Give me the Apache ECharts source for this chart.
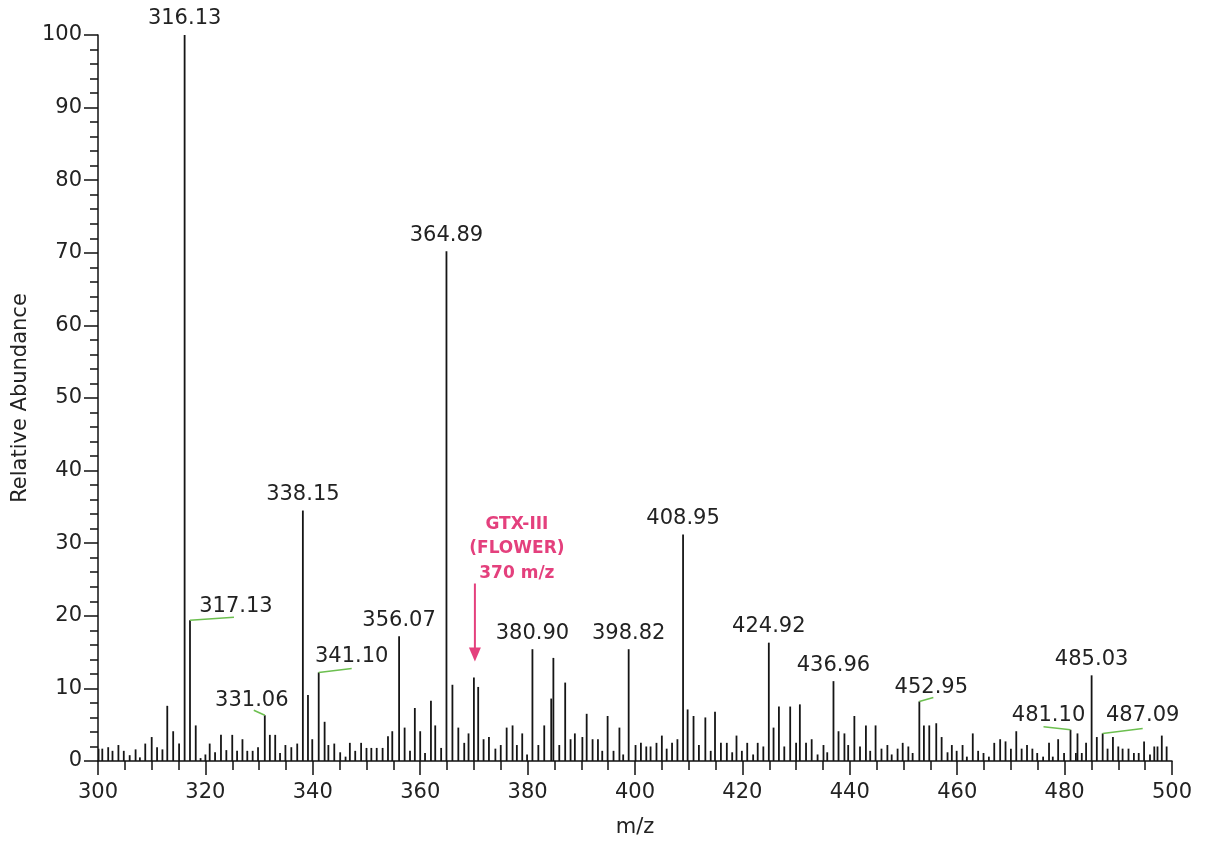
<!DOCTYPE html>
<html>
<head>
<meta charset="utf-8">
<script src="https://cdn.jsdelivr.net/npm/echarts@6/dist/echarts.min.js"></script>
<style>
  html, body { margin: 0; padding: 0; background: #ffffff; }
  #chart { width: 1207px; height: 843px; }
</style>
</head>
<body>
<div id="chart"></div>
<script>
// ---- data ----
const mzValues = [
  300.1, 300.8, 301.9, 302.7, 303.8, 304.8, 305.9, 307.0, 307.8, 308.8,
  310.0, 311.0, 312.0, 312.9, 314.0, 315.1, 316.13, 317.13, 318.2, 319.1,
  320.0, 320.8, 321.8, 322.9, 323.9, 325.0, 325.9, 326.9, 327.8, 328.8,
  329.8, 331.06, 332.0, 333.0, 333.9, 334.9, 336.0, 337.1, 338.15, 339.1,
  339.9, 341.10, 342.2, 342.9, 344.0, 345.1, 346.1, 346.9, 347.9, 349.0,
  350.0, 350.9, 351.9, 353.0, 354.0, 354.8, 356.07, 357.1, 358.1, 359.0,
  360.0, 360.9, 362.0, 362.8, 363.9, 364.89, 366.0, 367.1, 368.2, 369.0,
  370.0, 370.8, 371.8, 372.8, 374.0, 375.0, 376.1, 377.2, 378.0, 379.0,
  379.9, 380.90, 382.0, 383.1, 384.4, 384.8, 385.9, 387.0, 388.0, 388.8,
  390.2, 391.0, 392.1, 393.1, 393.9, 394.9, 396.0, 397.1, 397.8, 398.82,
  400.1, 401.1, 402.1, 402.9, 404.0, 405.0, 405.9, 406.9, 407.9, 408.95,
  409.8, 410.9, 411.9, 413.1, 414.1, 414.9, 416.0, 417.1, 418.1, 418.9,
  419.9, 420.9, 422.0, 422.85, 423.9, 424.92, 425.8, 426.8, 427.8, 428.9,
  430.0, 430.7, 431.85, 432.9, 434.0, 435.1, 435.8, 436.96, 437.9, 439.0,
  439.7, 440.85, 441.9, 443.0, 443.8, 444.8, 445.9, 447.0, 447.8, 448.9,
  449.85, 450.9, 451.7, 452.95, 453.8, 454.8, 456.1, 457.1, 458.2, 459.0,
  459.9, 461.0, 461.8, 462.9, 463.9, 464.9, 465.9, 466.9, 468.0, 469.0,
  470.0, 471.0, 472.0, 473.0, 474.0, 474.9, 476.0, 477.1, 477.8, 478.8,
  479.9, 481.10, 482.1, 482.4, 483.2, 484.0, 485.03, 486.0, 487.09, 488.0,
  489.0, 490.0, 490.8, 491.9, 492.9, 493.8, 494.8, 495.9, 496.7, 497.3,
  498.1, 499.0
];
const abundance = [
  1.7, 1.7, 1.9, 1.4, 2.2, 1.4, 0.8, 1.6, 0.5, 2.4,
  3.3, 1.9, 1.6, 7.6, 4.1, 2.4, 100, 19.4, 4.9, 0.4,
  0.9, 2.4, 1.2, 3.6, 1.5, 3.6, 1.4, 3.0, 1.4, 1.4,
  1.9, 6.3, 3.6, 3.6, 1.1, 2.2, 1.9, 2.4, 34.5, 9.1,
  3.0, 12.2, 5.4, 2.2, 2.4, 1.2, 0.6, 2.5, 1.4, 2.5,
  1.8, 1.8, 1.8, 1.8, 3.4, 4.1, 17.2, 4.6, 1.4, 7.3,
  4.1, 1.1, 8.3, 4.9, 1.8, 70.2, 10.5, 4.6, 2.5, 3.8,
  11.5, 10.2, 3.0, 3.3, 1.7, 2.2, 4.6, 4.9, 2.2, 3.8,
  0.9, 15.4, 2.2, 4.9, 8.6, 14.2, 2.2, 10.8, 3.0, 3.8,
  3.3, 6.5, 3.0, 3.0, 1.4, 6.2, 1.4, 4.6, 0.9, 15.4,
  2.2, 2.5, 2.0, 2.0, 2.5, 3.5, 1.7, 2.5, 3.0, 31.2,
  7.1, 6.2, 2.2, 6.0, 1.4, 6.8, 2.5, 2.5, 1.2, 3.5,
  1.4, 2.5, 0.9, 2.5, 2.0, 16.3, 4.6, 7.5, 2.0, 7.5,
  2.5, 7.8, 2.5, 3.0, 0.9, 2.2, 1.2, 11.0, 4.1, 3.8,
  2.2, 6.2, 2.0, 4.9, 1.4, 4.9, 1.7, 2.2, 0.9, 1.7,
  2.5, 2.0, 1.1, 8.2, 4.9, 4.9, 5.2, 3.3, 1.2, 2.2,
  1.4, 2.2, 0.6, 3.8, 1.4, 1.1, 0.6, 2.5, 3.0, 2.7,
  1.7, 4.1, 1.7, 2.2, 1.7, 1.1, 0.6, 2.5, 0.6, 3.0,
  1.1, 4.3, 1.1, 3.8, 1.1, 2.5, 11.8, 3.3, 3.8, 1.7,
  3.3, 2.0, 1.7, 1.7, 1.1, 1.1, 2.7, 0.9, 2.0, 2.0,
  3.5, 2.0
];
const labeledPeaks = [316.13, 317.13, 331.06, 338.15, 341.10, 356.07, 364.89,
  380.90, 398.82, 408.95, 424.92, 436.96, 452.95, 481.10, 485.03, 487.09];
const annotationMz = 370;
const annotationLines = ['GTX-III', '(FLOWER)', '370 m/z'];
const xTickRange = [300, 500];
const yTickRange = [0, 100];

// ---- layout (label offsets in px, connector ends) ----
const labelLayout = {
  '317.13': { dx: 46, dy: -14, line: [[0, 0], [44, -3]] },
  '331.06': { dx: -13, dy: -15, line: [[-11, -5], [0, 0]] },
  '341.10': { dx: 33, dy: -16, line: [[0, 0], [33, -4]] },
  '452.95': { dx: 12, dy: -14, line: [[0, 0], [14, -4]] },
  '481.10': { dx: -22, dy: -14, line: [[-27, -3], [0, 0]] },
  '487.09': { dx: 40, dy: -18, line: [[0, 0], [40, -5]] }
};

const FONT = 'DejaVu Sans';
const peakData = mzValues.map((m, i) => [m, abundance[i]]);
const labelData = labeledPeaks.map(m => [m, abundance[mzValues.indexOf(m)]]);
const annPeak = Math.max(...mzValues.map((m, i) => Math.abs(m - annotationMz) < 0.5 ? abundance[i] : 0));

const chart = echarts.init(document.getElementById('chart'), null, { renderer: 'canvas' });
chart.setOption({
  backgroundColor: '#ffffff',
  animation: false,
  grid: { left: 98, right: 35, top: 35, bottom: 80 },
  xAxis: {
    type: 'value', min: xTickRange[0], max: xTickRange[1], interval: 20,
    name: 'm/z', nameLocation: 'middle', nameGap: 56,
    nameTextStyle: { fontFamily: FONT, fontSize: 21, color: '#222' },
    axisLine: { show: true, onZero: false, lineStyle: { color: '#111', width: 1.5 } },
    axisTick: { show: true, length: 14, lineStyle: { color: '#111', width: 1.5 } },
    minorTick: { show: true, splitNumber: 4, length: 9, lineStyle: { color: '#111', width: 1.5 } },
    splitLine: { show: false },
    axisLabel: { fontFamily: FONT, fontSize: 21, color: '#222', margin: 21 }
  },
  yAxis: {
    type: 'value', min: yTickRange[0], max: yTickRange[1], interval: 10,
    name: 'Relative Abundance', nameLocation: 'middle', nameGap: 56,
    nameTextStyle: { fontFamily: FONT, fontSize: 21, color: '#222' },
    axisLine: { show: true, lineStyle: { color: '#111', width: 1.5 } },
    axisTick: { show: true, length: 14, lineStyle: { color: '#111', width: 1.5 } },
    minorTick: { show: true, splitNumber: 5, length: 8, lineStyle: { color: '#111', width: 1.5 } },
    splitLine: { show: false },
    axisLabel: { fontFamily: FONT, fontSize: 21, color: '#222', margin: 16 }
  },
  series: [
    {
      type: 'custom', name: 'peaks', data: peakData, encode: { x: 0, y: 1 }, clip: true,
      renderItem: function (params, api) {
        const x = api.value(0), y = api.value(1);
        const p0 = api.coord([x, 0]);
        const p1 = api.coord([x, y]);
        return { type: 'line', shape: { x1: p0[0], y1: p0[1], x2: p1[0], y2: p1[1] },
                 style: { stroke: '#151515', lineWidth: 1.8 } };
      }
    },
    {
      type: 'custom', name: 'labels', data: labelData, encode: { x: 0, y: 1 }, clip: false, z: 5,
      renderItem: function (params, api) {
        const m = api.value(0), h = api.value(1);
        const p = api.coord([m, h]);
        const key = m.toFixed(2);
        const lay = labelLayout[key] || { dx: 0, dy: -16 };
        const children = [{
          type: 'text', x: p[0] + lay.dx, y: p[1] + lay.dy,
          style: { text: key, fontFamily: FONT, fontSize: 21, fill: '#222',
                   align: 'center', verticalAlign: 'middle' }
        }];
        if (lay.line) {
          children.push({
            type: 'polyline',
            shape: { points: lay.line.map(q => [p[0] + q[0], p[1] + q[1]]) },
            style: { stroke: '#6cbf4f', lineWidth: 1.5, fill: null }
          });
        }
        return { type: 'group', children: children };
      }
    },
    {
      type: 'custom', name: 'annotation', data: [[annotationMz, annPeak]], encode: { x: 0, y: 1 }, clip: false, z: 6,
      renderItem: function (params, api) {
        const p = api.coord([api.value(0), api.value(1)]);
        const tx = p[0] + 1, ty = p[1] - 16;
        const pink = '#e4407d';
        const children = [
          { type: 'line', shape: { x1: tx, y1: ty - 78, x2: tx, y2: ty - 10 }, style: { stroke: pink, lineWidth: 2 } },
          { type: 'polygon', shape: { points: [[tx - 6, ty - 14], [tx + 6, ty - 14], [tx, ty]] }, style: { fill: pink } }
        ];
        annotationLines.forEach((t, i) => {
          children.push({
            type: 'text', x: tx + 42, y: ty - 137 + i * 24.5,
            style: { text: t, fontFamily: FONT, fontWeight: 'bold', fontSize: 17, fill: pink,
                     align: 'center', verticalAlign: 'middle' }
          });
        });
        return { type: 'group', children: children };
      }
    }
  ]
});
</script>
</body>
</html>
